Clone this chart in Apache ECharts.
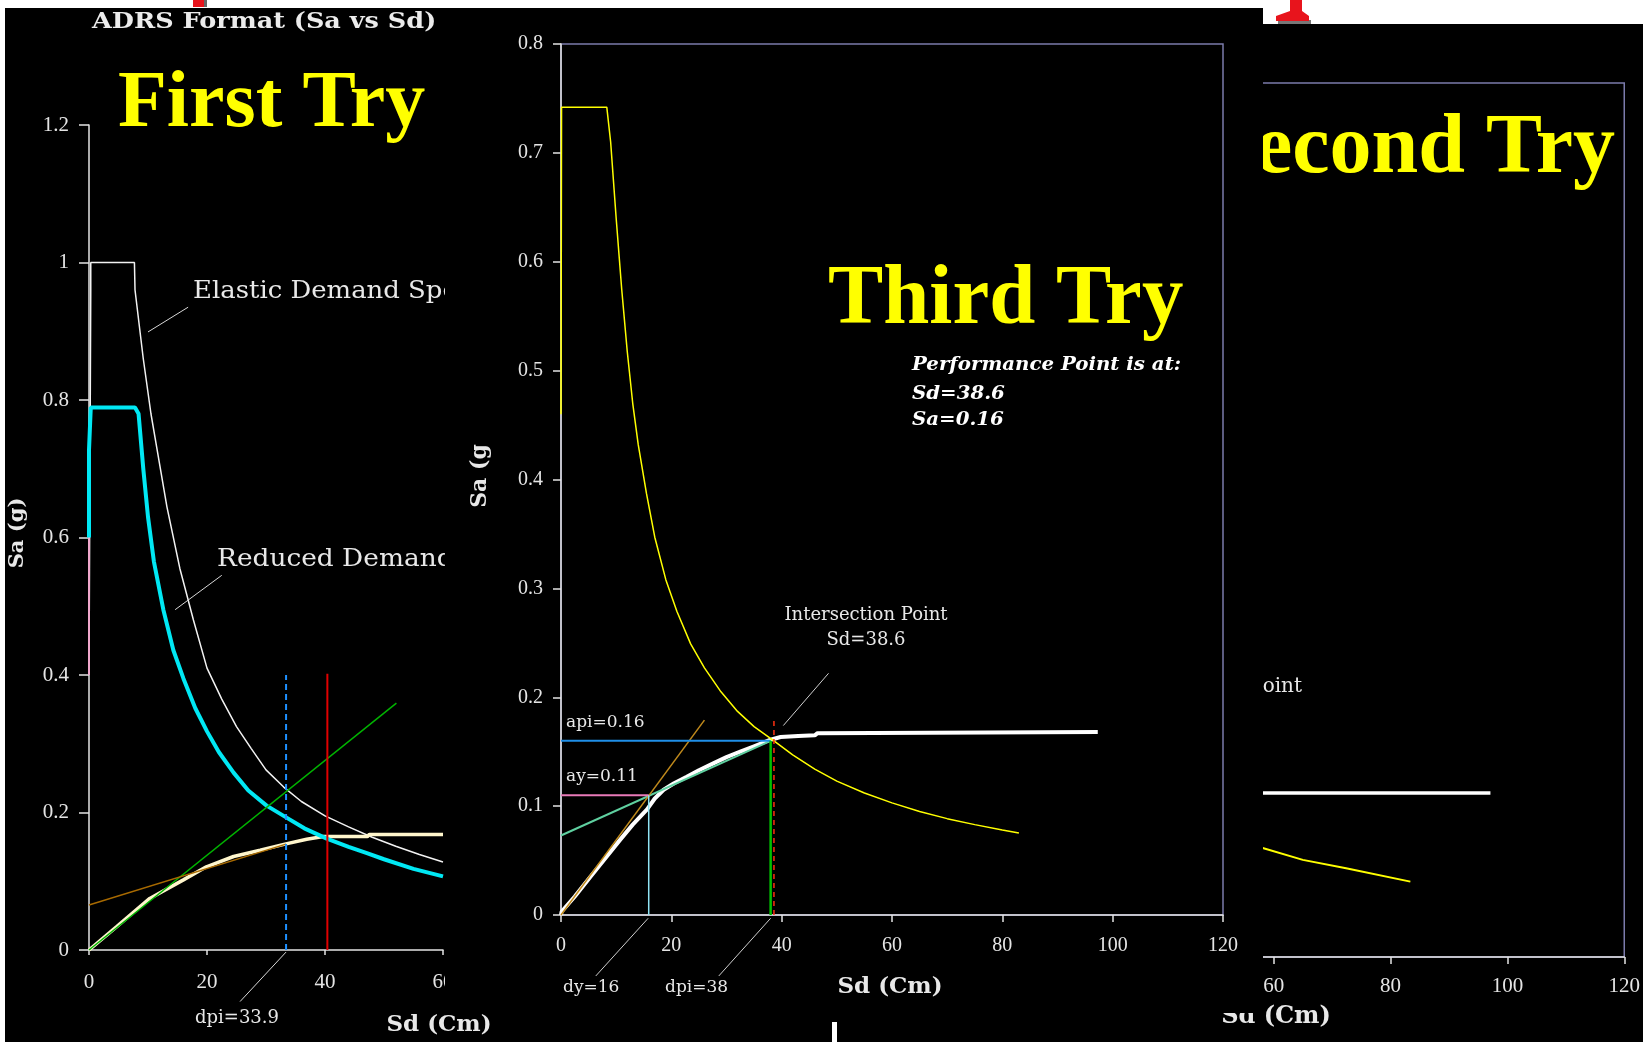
<!DOCTYPE html>
<html><head><meta charset="utf-8">
<script src="https://cdn.jsdelivr.net/npm/echarts@6/dist/echarts.min.js"></script>
<style>html,body{margin:0;padding:0;background:#000;overflow:hidden}#c{width:1643px;height:1042px}</style>
</head><body><div id="c"></div>
<script>
// ---------- DATA (Sd in cm, Sa in g) ----------
// First Try (left)
const firstElastic = [[0,0.4],[0.3,0.96],[0.3,1.0],[7.7,1.0],[7.8,0.96],[9.2,0.86],[10.5,0.78],[11.5,0.73],[13.2,0.645],[15.4,0.555],[17.7,0.48],[20,0.41],[22.5,0.365],[25,0.325],[27.5,0.293],[30,0.262],[33,0.237],[36,0.216],[40,0.195],[44,0.179],[48,0.164],[52,0.151],[56,0.139],[60,0.128]];
const firstReducedLow = [[0,0.4],[0,0.6]];
const firstReduced = [[0,0.6],[0,0.727],[0.3,0.789],[7.8,0.789],[8.4,0.78],[9.2,0.70],[10,0.63],[11,0.565],[12.6,0.495],[14.3,0.436],[16,0.395],[18,0.352],[20,0.318],[22,0.288],[24.5,0.258],[27,0.232],[30.1,0.21],[33.2,0.194],[36.5,0.177],[40.3,0.162],[44,0.15],[47.1,0.141],[50,0.132],[55,0.118],[60,0.107]];
const firstCapacity = [[0,0],[4.7,0.034],[10.3,0.075],[16.0,0.102],[19.9,0.121],[24.5,0.136],[29.0,0.145],[33.2,0.154],[36.9,0.161],[39.7,0.165],[47.2,0.165],[47.5,0.168],[60,0.168]];
const firstInitialSlope = [[0,0],[52.1,0.359]];
const firstPostYield = [[0,0.0655],[33.4,0.154]];
const firstDpi = [[33.4,0],[33.4,0.40]];
const firstIntersect = [[40.4,0],[40.4,0.402]];
const firstLeaderElastic = [[16.8,0.935],[10.0,0.899]];
const firstLeaderReduced = [[22.5,0.545],[14.6,0.495]];
const firstLeaderDpi = [[33.4,-0.003],[25.6,-0.075]];

// Third Try (middle)
const thirdDemand = [[0,0.46],[0.1,0.742],[8.3,0.742],[9.0,0.71],[10,0.64],[11,0.575],[12,0.518],[13,0.47],[14,0.432],[15.5,0.387],[17,0.347],[19,0.308],[21,0.279],[23.5,0.249],[26,0.227],[29,0.205],[32,0.187],[35,0.173],[38.6,0.160],[42,0.147],[46,0.134],[50,0.123],[55,0.112],[60,0.103],[65,0.095],[70,0.0885],[75,0.083],[80,0.078],[83,0.0753]];
const thirdCapacity = [[0,0],[0.1,0.003],[2.5,0.017],[5.3,0.035],[8,0.052],[10.7,0.069],[13,0.083],[15.6,0.097],[17,0.107],[18.6,0.115],[20.5,0.121],[22.8,0.127],[25,0.133],[27.7,0.1395],[30,0.145],[32.5,0.150],[35,0.155],[38.0,0.161],[39.8,0.1635],[43,0.1645],[46.0,0.165],[46.5,0.167],[97.3,0.168]];
const thirdInitialSlope = [[0,0],[26.0,0.179]];
const thirdPostYield = [[0,0.073],[38.0,0.160]];
const thirdAy = [[0,0.11],[15.9,0.11]];
const thirdDy = [[15.9,0],[15.9,0.11]];
const thirdApi = [[0,0.16],[38.0,0.16]];
const thirdDpi = [[38.0,0],[38.0,0.16]];
const thirdIntersect = [[38.6,0],[38.6,0.181]];
const thirdLeaderIntersect = [[48.5,0.222],[40.3,0.174]];
const thirdLeaderDy = [[15.8,-0.003],[6.3,-0.056]];
const thirdLeaderDpi = [[38.0,-0.003],[28.6,-0.056]];

// Second Try (right, mostly hidden)
const secondDemand = [[56,0.116],[57.7,0.113],[65.0,0.100],[72.4,0.0913],[83.4,0.0776]];
const secondCapacity = [[50,0.169],[97.1,0.169]];

// axis ranges
const firstSdMax = 60, firstSdStep = 20, firstSaMax = 1.2, firstSaStep = 0.2;
const thirdSdMax = 120, thirdSdStep = 20, thirdSaMax = 0.8, thirdSaStep = 0.1;
const secondSdMax = 120, secondSdStep = 20, secondSaMax = 0.9, secondSaStep = 0.1;

// ---------- CHART ----------
const AX = '#e4e4e4', BORDER = '#7b7bab', TICKFONT = 'Liberation Serif';
function xAx(gi, max, step, z, tickLen, labelSize, margin){
  return {type:'value', gridIndex:gi, min:0, max, interval:step, z,
    axisLine:{show:true, onZero:false, lineStyle:{color:AX, width:1.5}},
    axisTick:{show:true, length:tickLen, lineStyle:{color:AX, width:1.5}},
    axisLabel:{color:AX, fontSize:labelSize, fontFamily:TICKFONT, margin},
    splitLine:{show:false}};
}
function yAx(gi, max, step, z, tickLen, labelSize, margin){
  return {type:'value', gridIndex:gi, min:0, max, interval:step, z,
    axisLine:{show:true, onZero:false, lineStyle:{color:AX, width:1.5}},
    axisTick:{show:true, length:tickLen, lineStyle:{color:AX, width:1.5}},
    axisLabel:{color:AX, fontSize:labelSize, fontFamily:TICKFONT, margin},
    splitLine:{show:false}};
}
function ln(data, ai, color, width, z, extra){
  const s = {type:'line', data, xAxisIndex:ai, yAxisIndex:ai, symbol:'none', silent:true, z,
    animation:false, lineStyle:{color, width}};
  if (extra && extra.dash) s.lineStyle.type = extra.dash;
  if (extra && extra.noclip) s.clip = false;
  return s;
}
function txt(x, y, text, font, fill, z, align, extra){
  return Object.assign({type:'text', x, y, z, silent:true,
    style:{text, font, fill, textAlign:align||'left', textVerticalAlign:'middle'}}, extra||{});
}

const chart = echarts.init(document.getElementById('c'), null, {renderer:'canvas'});
chart.setOption({
  backgroundColor:'#000',
  animation:false,
  grid:[
    {left:89, top:125, width:354, height:825, show:false, z:1},
    {left:561, top:44, width:662, height:871, show:true, borderColor:BORDER, borderWidth:1.5, backgroundColor:'transparent', z:19},
    {left:923, top:83, width:708, height:874, show:true, borderColor:BORDER, borderWidth:1.5, backgroundColor:'transparent', z:1}
  ],
  xAxis:[
    xAx(0, firstSdMax, firstSdStep, 1, 5, 21, 22),
    xAx(1, thirdSdMax, thirdSdStep, 21, 7, 20, 21),
    xAx(2, secondSdMax, secondSdStep, 1, 7, 21, 19)
  ],
  yAxis:[
    yAx(0, firstSaMax, firstSaStep, 1, 10, 21, 20),
    yAx(1, thirdSaMax, thirdSaStep, 21, 8, 20, 18),
    yAx(2, secondSaMax, secondSaStep, 1, 8, 20, 18)
  ],
  series:[
    // first try
    ln(firstElastic, 0, '#f2f2f2', 1.5, 2),
    ln(firstReducedLow, 0, '#f0a8cc', 2, 2),
    ln(firstReduced, 0, '#00e8f4', 4, 3),
    ln(firstCapacity, 0, '#fff6cc', 3.5, 2),
    ln(firstInitialSlope, 0, '#00b400', 1.5, 3),
    ln(firstPostYield, 0, '#a86a00', 1.5, 3),
    ln(firstDpi, 0, '#1e90ff', 2, 4, {dash:[6,4]}),
    ln(firstIntersect, 0, '#e00000', 2, 4),
    ln(firstLeaderElastic, 0, '#d8d8d8', 1, 4, {noclip:true}),
    ln(firstLeaderReduced, 0, '#d8d8d8', 1, 4, {noclip:true}),
    ln(firstLeaderDpi, 0, '#d8d8d8', 1, 4, {noclip:true}),
    // second try (behind third)
    ln(secondCapacity, 2, '#ffffff', 3.5, 2),
    ln(secondDemand, 2, '#ffff00', 2, 3),
    // third try
    ln(thirdCapacity, 1, '#ffffff', 4, 21),
    ln(thirdPostYield, 1, '#5fd0a0', 2, 22),
    ln(thirdInitialSlope, 1, '#c08a1c', 1.5, 22),
    ln(thirdAy, 1, '#e87ab8', 2, 22),
    ln(thirdDy, 1, '#90e4f4', 1.5, 22),
    ln(thirdApi, 1, '#1f8fe8', 2, 22),
    ln(thirdDpi, 1, '#00c000', 2.5, 22),
    ln(thirdIntersect, 1, '#ff3010', 1.5, 24, {dash:[5,4]}),
    ln(thirdDemand, 1, '#ffff00', 1.5, 23),
    ln(thirdLeaderIntersect, 1, '#cfcfcf', 1, 24, {noclip:true}),
    ln(thirdLeaderDy, 1, '#cfcfcf', 1, 24, {noclip:true}),
    ln(thirdLeaderDpi, 1, '#cfcfcf', 1, 24, {noclip:true})
  ],
  graphic:{elements:[
    // first try texts
    txt(92, 22, 'ADRS Format (Sa vs Sd)', 'bold 22px "DejaVu Serif"', '#ececec', 5, 'left', {scaleX:1.16}),
    txt(118, 105, 'First Try', 'bold 80px "Liberation Serif"', '#ffff00', 5),
    txt(193, 292, 'Elastic Demand Spectrum', '24px "DejaVu Serif"', '#e8e8e8', 5, 'left', {scaleX:1.08}),
    txt(217, 560, 'Reduced Demand Spectrum', '24px "DejaVu Serif"', '#e8e8e8', 5, 'left', {scaleX:1.1}),
    txt(18, 533, 'Sa (g)', 'bold 21px "DejaVu Serif"', '#e8e8e8', 5, 'center', {rotation:Math.PI/2}),
    txt(439, 1025, 'Sd (Cm)', 'bold 23px "DejaVu Serif"', '#e8e8e8', 5, 'center'),
    txt(237, 1018, 'dpi=33.9', '18px "DejaVu Serif"', '#e8e8e8', 5, 'center'),
    // second try texts
    txt(1615, 150, 'Second Try', 'bold 84px "Liberation Serif"', '#ffff00', 5, 'right'),
    txt(1302, 687, 'Intersection Point', '20px "DejaVu Serif"', '#e8e8e8', 5, 'right'),
    txt(1276, 1017, 'Sd (Cm)', 'bold 24px "DejaVu Serif"', '#e8e8e8', 5, 'center'),
    // third try panel cover
    {type:'rect', z:10, silent:true, shape:{x:445, y:8, width:818, height:1005}, style:{fill:'#000'}},
    // third try texts
    txt(828, 301, 'Third Try', 'bold 85px "Liberation Serif"', '#ffff00', 30, 'left', {scaleX:0.975}),
    txt(912, 365, 'Performance Point is at:', 'italic bold 19px "DejaVu Serif"', '#ffffff', 30, 'left', {scaleX:1.04}),
    txt(912, 394, 'Sd=38.6', 'italic bold 19px "DejaVu Serif"', '#ffffff', 30, 'left', {scaleX:1.04}),
    txt(912, 420, 'Sa=0.16', 'italic bold 19px "DejaVu Serif"', '#ffffff', 30, 'left', {scaleX:1.04}),
    txt(866, 615, 'Intersection Point', '18px "DejaVu Serif"', '#e8e8e8', 30, 'center'),
    txt(866, 640, 'Sd=38.6', '18px "DejaVu Serif"', '#e8e8e8', 30, 'center'),
    txt(566, 723, 'api=0.16', '17px "DejaVu Serif"', '#e8e8e8', 30),
    txt(566, 777, 'ay=0.11', '17px "DejaVu Serif"', '#e8e8e8', 30),
    txt(563, 988, 'dy=16', '17px "DejaVu Serif"', '#e8e8e8', 30),
    txt(665, 988, 'dpi=38', '17px "DejaVu Serif"', '#e8e8e8', 30),
    txt(890, 987, 'Sd (Cm)', 'bold 23px "DejaVu Serif"', '#e8e8e8', 30, 'center'),
    txt(480, 476, 'Sa (g', 'bold 22px "DejaVu Serif"', '#e8e8e8', 30, 'center', {rotation:Math.PI/2}),
    // page frame bits
    {type:'rect', z:50, silent:true, shape:{x:0, y:0, width:1263, height:8}, style:{fill:'#fff'}},
    {type:'rect', z:50, silent:true, shape:{x:1263, y:0, width:380, height:24}, style:{fill:'#fff'}},
    {type:'rect', z:50, silent:true, shape:{x:0, y:0, width:5, height:1042}, style:{fill:'#fff'}},
    {type:'rect', z:50, silent:true, shape:{x:832, y:1022, width:5, height:20}, style:{fill:'#fff'}},
    {type:'rect', z:51, silent:true, shape:{x:193, y:0, width:11, height:7}, style:{fill:'#e8141c'}},
    {type:'rect', z:51, silent:true, shape:{x:204, y:0, width:3, height:7}, style:{fill:'#666'}},
    {type:'rect', z:51, silent:true, shape:{x:1278, y:20, width:33, height:4}, style:{fill:'#777'}},
    {type:'polygon', z:52, silent:true, shape:{points:[[1290,0],[1302,0],[1302,11],[1309,16],[1309,21],[1276,21],[1276,16],[1290,11]]}, style:{fill:'#e8141c'}}
  ]}
});
</script></body></html>
